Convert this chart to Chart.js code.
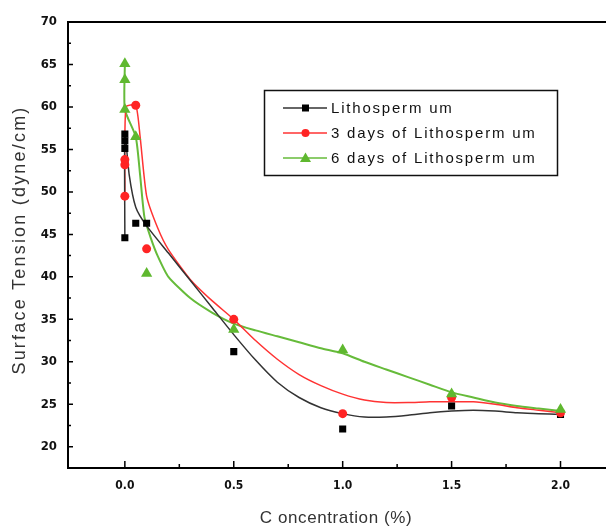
<!DOCTYPE html>
<html>
<head>
<meta charset="utf-8">
<script src="https://cdn.jsdelivr.net/npm/chart.js@4.4.1/dist/chart.umd.min.js"></script>
<style>
  html, body { margin: 0; padding: 0; background: #fff; }
  #wrap { width: 606px; height: 528px; }
</style>
</head>
<body>
<div id="wrap"><canvas id="tensionChart" width="606" height="528"></canvas></div>
<script>
// measured points
const seriesNames = ['Lithosperm um', '3 days of Lithosperm um', '6 days of Lithosperm um'];

const blackX = [0, 0, 0, 0, 0.05, 0.1, 0.5, 1.0, 1.5, 2.0];
const blackY = [44.6, 55.1, 56.0, 56.8, 46.3, 46.3, 31.2, 22.1, 24.8, 23.8];

const redX = [0, 0, 0, 0.05, 0.1, 0.5, 1.0, 1.5, 2.0];
const redY = [49.5, 53.2, 53.8, 60.2, 43.3, 35.0, 23.9, 25.8, 24.0];

const greenX = [0, 0, 0, 0.05, 0.1, 0.5, 1.0, 1.5, 2.0];
const greenY = [59.7, 63.2, 65.1, 56.5, 40.4, 33.8, 31.4, 26.2, 24.4];

// fitted curves
const blackFitX = [0, 0, 0.02, 0.05, 0.1, 0.2, 0.3, 0.4, 0.5, 0.6, 0.7, 0.8, 0.9, 1.0, 1.1, 1.2, 1.3, 1.4, 1.5, 1.6, 1.7, 1.8, 1.9, 2.0];
const blackFitY = [44.6, 57.0, 52.0, 48.2, 46.0, 42.8, 39.6, 36.4, 33.2, 30.2, 27.6, 25.8, 24.6, 23.9, 23.5, 23.5, 23.7, 24.0, 24.2, 24.3, 24.2, 24.0, 23.9, 23.8];

const redFitX = [0, 0.005, 0.05, 0.07, 0.1, 0.15, 0.2, 0.3, 0.4, 0.5, 0.6, 0.7, 0.8, 0.9, 1.0, 1.1, 1.2, 1.3, 1.4, 1.5, 1.6, 1.7, 1.8, 1.9, 2.0];
const redFitY = [49.5, 60.0, 60.2, 56.5, 49.5, 45.8, 43.2, 39.7, 37.2, 35.0, 32.5, 30.3, 28.5, 27.2, 26.2, 25.5, 25.2, 25.2, 25.3, 25.3, 25.3, 25.0, 24.6, 24.3, 24.0];

const greenFitX = [0, 0, 0.05, 0.07, 0.09, 0.12, 0.15, 0.2, 0.3, 0.4, 0.5, 0.6, 0.7, 0.8, 0.9, 1.0, 1.1, 1.2, 1.3, 1.4, 1.5, 1.6, 1.7, 1.8, 1.9, 2.0];
const greenFitY = [65.1, 59.7, 56.5, 52.0, 47.0, 44.5, 42.5, 40.0, 37.5, 35.8, 34.5, 33.7, 33.0, 32.3, 31.6, 31.0, 30.0, 29.1, 28.2, 27.3, 26.4, 25.8, 25.2, 24.8, 24.5, 24.2];

const xTicks = [0, 0.5, 1.0, 1.5, 2.0];
const xMinorTicks = [0.25, 0.75, 1.25, 1.75];
const yTicks = [20, 25, 30, 35, 40, 45, 50, 55, 60, 65, 70];
const yMinorTicks = [22.5, 27.5, 32.5, 37.5, 42.5, 47.5, 52.5, 57.5, 62.5, 67.5];

const xTitle = 'C oncentration (%)';
const yTitle = 'Surface Tension (dyne/cm)';

const colors = ['#000000', '#ff2424', '#5fb82f'];
const lineColors = ['#333333', '#ff3333', '#66bb3a'];
const markers = ['rect', 'circle', 'triangle'];

function pts(xs, ys) {
    return xs.map((x, i) => ({ x: x, y: ys[i] }));
}

const frameAndTicks = {
    id: 'frameAndTicks',
    afterDatasetsDraw(chart) {
        const c = chart.ctx;
        const a = chart.chartArea;
        const sx = chart.scales.x, sy = chart.scales.y;
        c.save();
        c.strokeStyle = '#000';
        c.lineWidth = 2;
        c.beginPath();
        c.moveTo(a.left - 1, a.top);
        c.lineTo(606, a.top);
        c.moveTo(a.right, a.bottom);
        c.lineTo(606, a.bottom);
        c.stroke();
        c.lineWidth = 1.5;
        c.beginPath();
        xTicks.forEach(v => { const p = sx.getPixelForValue(v); c.moveTo(p, a.bottom); c.lineTo(p, a.bottom - 7); });
        xMinorTicks.forEach(v => { const p = sx.getPixelForValue(v); c.moveTo(p, a.bottom); c.lineTo(p, a.bottom - 4); });
        yTicks.forEach(v => { const p = sy.getPixelForValue(v); c.moveTo(a.left, p); c.lineTo(a.left + 5, p); });
        yMinorTicks.forEach(v => { const p = sy.getPixelForValue(v); c.moveTo(a.left, p); c.lineTo(a.left + 3, p); });
        c.stroke();
        c.restore();
    }
};

const titlesAndLegend = {
    id: 'titlesAndLegend',
    afterDraw(chart) {
        const c = chart.ctx;
        const a = chart.chartArea;
        c.save();
        // axis titles
        c.fillStyle = '#333';
        c.textAlign = 'center';
        c.textBaseline = 'middle';
        c.font = '17px "Liberation Sans", Arial, sans-serif';
        c.letterSpacing = '0.6px';
        c.fillText(xTitle, 336, 518);
        c.save();
        c.translate(20, 240);
        c.rotate(-Math.PI / 2);
        c.font = '18px "Liberation Sans", Arial, sans-serif';
        c.letterSpacing = '2.2px';
        c.fillText(yTitle, 0, 0);
        c.restore();

        // legend box
        c.strokeStyle = '#111';
        c.lineWidth = 1.5;
        c.strokeRect(264.5, 90.5, 293, 85);
        c.font = '15px "Liberation Sans", Arial, sans-serif';
        c.letterSpacing = '1.8px';
        c.textAlign = 'left';
        seriesNames.forEach((name, i) => {
            const y = 108 + i * 25;
            c.strokeStyle = lineColors[i];
            c.lineWidth = 1.5;
            c.beginPath();
            c.moveTo(283, y); c.lineTo(327, y);
            c.stroke();
            c.fillStyle = colors[i];
            c.beginPath();
            if (markers[i] === 'rect') {
                c.rect(302, y - 3.5, 7, 7);
            } else if (markers[i] === 'circle') {
                c.arc(305.5, y, 4, 0, Math.PI * 2);
            } else {
                c.moveTo(305.5, y - 5.5); c.lineTo(311, y + 4); c.lineTo(300, y + 4); c.closePath();
            }
            c.fill();
            c.fillStyle = '#111';
            c.fillText(name, 331, y + 1);
        });
        c.restore();
    }
};

const ctx = document.getElementById('tensionChart').getContext('2d');

const pointSets = [[blackX, blackY], [redX, redY], [greenX, greenY]];
const fitSets = [[blackFitX, blackFitY], [redFitX, redFitY], [greenFitX, greenFitY]];

const datasets = [];
pointSets.forEach((s, i) => {
    datasets.push({
        label: seriesNames[i],
        data: pts(s[0], s[1]),
        showLine: false,
        pointStyle: markers[i],
        pointRadius: [5, 4.5, 6.5][i],
        pointBackgroundColor: colors[i],
        pointBorderColor: colors[i],
        pointBorderWidth: 0,
        order: 2 - i
    });
});
fitSets.forEach((s, i) => {
    datasets.push({
        label: seriesNames[i] + ' fit',
        data: pts(s[0], s[1]),
        showLine: true,
        borderColor: lineColors[i],
        borderWidth: i === 2 ? 2 : 1.5,
        pointRadius: 0,
        tension: 0.2,
        order: 3 + i
    });
});

const tickFont = { family: '"DejaVu Sans Condensed", "DejaVu Sans", sans-serif', size: 13, weight: 'bold' };

const tensionChart = new Chart(ctx, {
    type: 'scatter',
    data: { datasets: datasets },
    options: {
        responsive: false,
        animation: false,
        layout: { padding: { top: 22, right: 0, left: 0, bottom: 0 } },
        plugins: {
            legend: { display: false },
            tooltip: { enabled: false }
        },
        scales: {
            x: {
                type: 'linear',
                min: -0.261,
                max: 2.179,
                afterBuildTicks: s => { s.ticks = xTicks.map(v => ({ value: v })); },
                afterFit: s => { s.height = 60; },
                grid: { display: false, drawTicks: false },
                border: { display: true, color: '#000', width: 2 },
                ticks: {
                    padding: 11,
                    color: '#111',
                    font: { family: tickFont.family, size: 12, weight: 'bold' },
                    callback: v => v.toFixed(1),
                    maxRotation: 0
                },
                title: { display: false }
            },
            y: {
                type: 'linear',
                min: 17.5,
                max: 70,
                afterBuildTicks: s => { s.ticks = yTicks.map(v => ({ value: v })); },
                afterFit: s => { s.width = 68; },
                grid: { display: false, drawTicks: false },
                border: { display: true, color: '#000', width: 2 },
                ticks: {
                    padding: 11,
                    color: '#111',
                    font: tickFont
                },
                title: { display: false }
            }
        }
    },
    plugins: [frameAndTicks, titlesAndLegend]
});
</script>
</body>
</html>
